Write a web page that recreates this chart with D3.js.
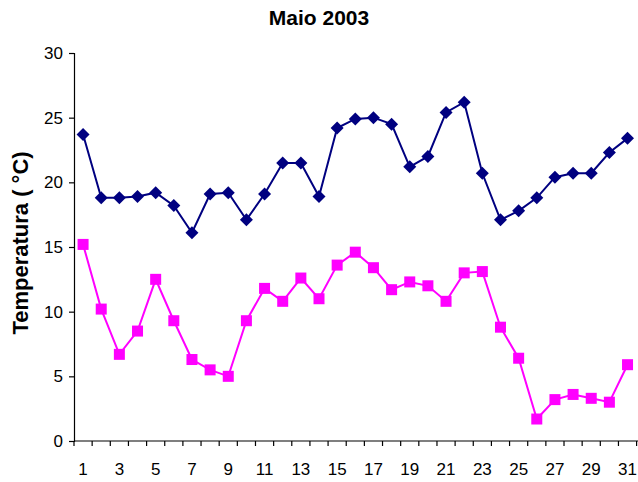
<!DOCTYPE html>
<html>
<head>
<meta charset="utf-8">
<script src="https://cdn.jsdelivr.net/npm/d3@7"></script>
<style>
html,body{margin:0;padding:0;background:#fff;}
svg{display:block;}
text{font-family:Arial,"Liberation Sans",sans-serif;}
</style>
</head>
<body>
<div id="chart"></div>
<script>
const days = d3.range(1, 32);
const maxTemp = [23.7,18.8,18.8,18.9,19.2,18.2,16.1,19.1,19.2,17.1,19.1,21.5,21.5,18.9,24.2,24.9,25.0,24.5,21.2,22.0,25.4,26.2,20.7,17.1,17.8,18.8,20.4,20.7,20.7,22.3,23.4];
const minTemp = [15.2,10.2,6.7,8.5,12.5,9.3,6.3,5.5,5.0,9.3,11.8,10.8,12.6,11.0,13.6,14.6,13.4,11.7,12.3,12.0,10.8,13.0,13.1,8.8,6.4,1.7,3.2,3.6,3.3,3.0,5.9];
const yTicks = [0,5,10,15,20,25,30];
const xLabels = days.filter(d => d % 2 === 1);
const title = "Maio 2003";
const yTitle = "Temperatura ( °C)";

const W = 638, H = 482;
const svg = d3.select("#chart").append("svg").attr("width", W).attr("height", H);

const x = d3.scaleBand().domain(days).range([74, 636.6]).paddingInner(0).paddingOuter(0);
const y = d3.scaleLinear().domain([0, 30]).range([441, 53]);
const cx = d => x(d) + x.bandwidth() / 2;

// Y axis
const yAxis = svg.append("g").attr("transform", "translate(74,0)")
  .call(d3.axisLeft(y).tickValues(yTicks).tickSize(5).tickPadding(6).tickFormat(d3.format("d")));
yAxis.select(".domain").attr("stroke", "#000").attr("stroke-width", 1.2);
yAxis.selectAll(".tick line").attr("stroke", "#000").attr("stroke-width", 1.2);
yAxis.selectAll(".tick text").attr("font-size", 17).attr("fill", "#000")
  .attr("font-family", "Arial, 'Liberation Sans', sans-serif");

// X axis line
svg.append("line").attr("x1", 74).attr("x2", 638).attr("y1", y(0)).attr("y2", y(0))
  .attr("stroke", "#000").attr("stroke-width", 1.2);
// X ticks at band boundaries
svg.append("g").selectAll("line").data(days.concat([32])).join("line")
  .attr("x1", d => d === 32 ? x(31) + x.bandwidth() : x(d))
  .attr("x2", d => d === 32 ? x(31) + x.bandwidth() : x(d))
  .attr("y1", y(0)).attr("y2", y(0) + 5)
  .attr("stroke", "#000").attr("stroke-width", 1.2);
// X labels
svg.append("g").selectAll("text").data(xLabels).join("text")
  .attr("x", d => cx(d)).attr("y", 475)
  .attr("text-anchor", "middle").attr("font-size", 17).attr("fill", "#000")
  .text(d => d);

// Lines
const line = d3.line().x((d, i) => cx(days[i])).y(d => y(d));
svg.append("path").datum(maxTemp).attr("d", line)
  .attr("fill", "none").attr("stroke", "#000080").attr("stroke-width", 2);
svg.append("path").datum(minTemp).attr("d", line)
  .attr("fill", "none").attr("stroke", "#FF00FF").attr("stroke-width", 2);

// Diamonds
svg.append("g").selectAll("path").data(maxTemp).join("path")
  .attr("transform", (d, i) => `translate(${cx(days[i])},${y(d)})`)
  .attr("d", "M0,-6.5L6.5,0L0,6.5L-6.5,0Z")
  .attr("fill", "#000080");
// Squares
svg.append("g").selectAll("rect").data(minTemp).join("rect")
  .attr("x", (d, i) => cx(days[i]) - 5.5).attr("y", d => y(d) - 5.5)
  .attr("width", 11).attr("height", 11)
  .attr("fill", "#FF00FF");

// Title
svg.append("text").attr("x", 319).attr("y", 25).attr("text-anchor", "middle")
  .attr("font-size", 21).attr("font-weight", "bold").attr("fill", "#000").text(title);

// Y title
svg.append("text").attr("transform", "translate(28,243) rotate(-90)")
  .attr("text-anchor", "middle").attr("font-size", 22).attr("font-weight", "bold")
  .attr("fill", "#000").text(yTitle);
</script>
</body>
</html>
